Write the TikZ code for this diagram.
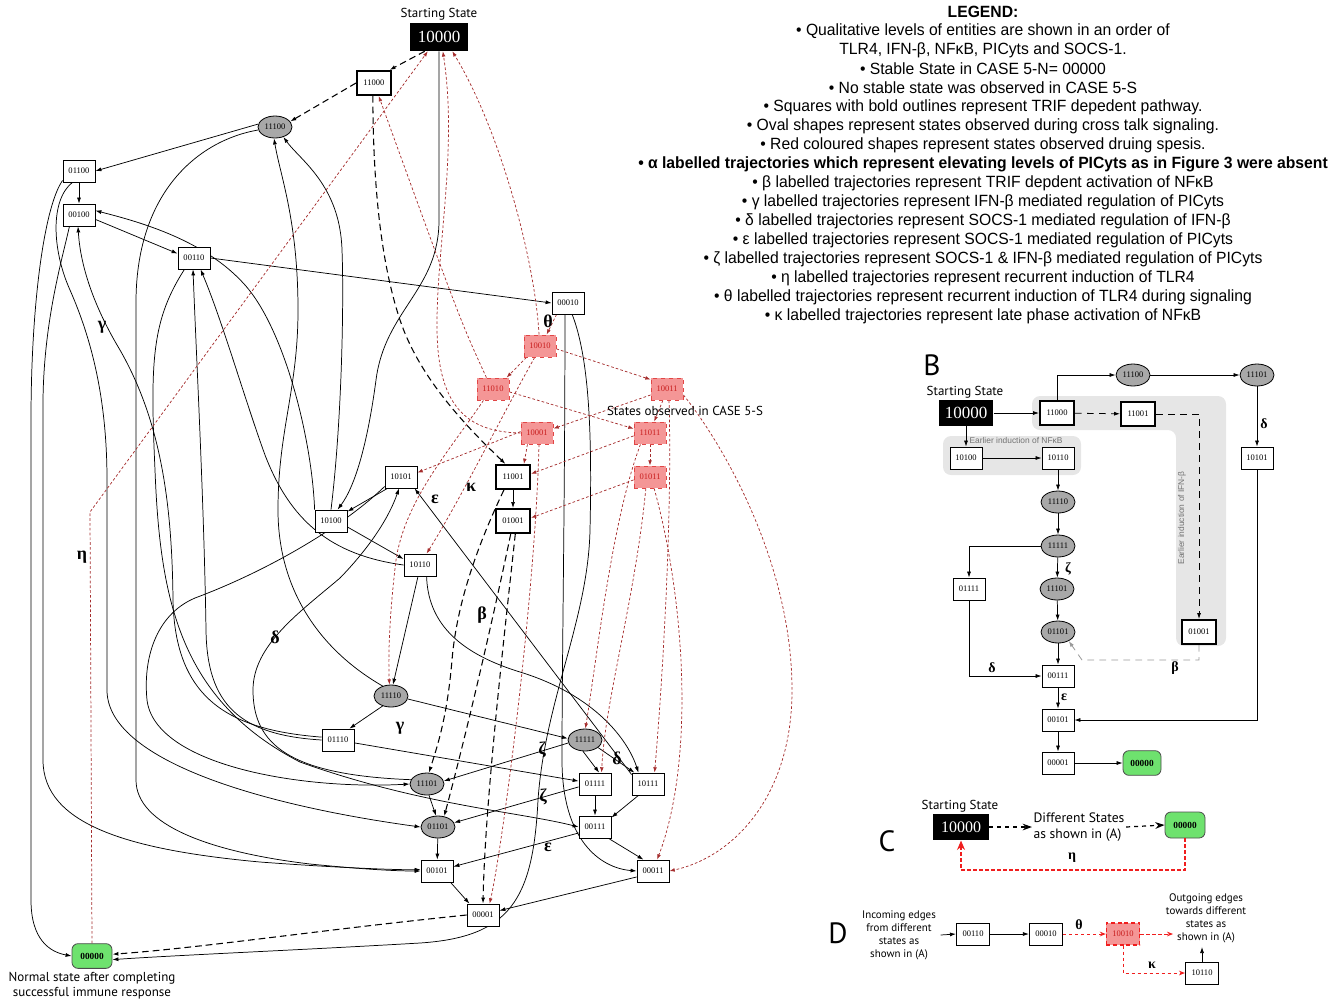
\documentclass[tikz,border=0pt]{standalone}
\usepackage{fontspec}
\setmainfont{Liberation Serif}
\newfontfamily\lgfont[FakeStretch=0.965]{Liberation Sans}
\newfontfamily\mysans{PT Sans}
\newfontfamily\smsans{Liberation Sans}
\usetikzlibrary{arrows.meta,shapes.geometric}
\pgfdeclarelayer{bgfill}
\pgfdeclarelayer{background}
\pgfsetlayers{bgfill,background,main}
\definecolor{redfill}{RGB}{244,150,150}
\definecolor{redline}{RGB}{225,70,70}
\definecolor{redtext}{RGB}{200,30,30}
\definecolor{redge}{RGB}{165,45,45}
\definecolor{ovalgray}{RGB}{168,168,168}
\definecolor{greenfill}{RGB}{110,226,110}
\definecolor{bggray}{RGB}{230,230,230}
\definecolor{brightred}{RGB}{240,30,30}
\tikzset{
 box/.style={draw, line width=0.6pt, fill=white, minimum width=24pt, minimum height=16.5pt, inner sep=0pt, font=\fontsize{6.4}{7}\selectfont},
 bbox/.style={box, line width=1.5pt, minimum width=25.5pt, minimum height=18pt},
 oval/.style={ellipse, draw, line width=0.6pt, fill=ovalgray, minimum width=25.5pt, minimum height=16.5pt, inner sep=0pt, font=\fontsize{6.4}{7}\selectfont},
 rbox/.style={box, draw=redline, dashed, fill=redfill, text=redtext},
 rboxb/.style={box, draw=brightred, densely dashed, line width=0.8pt, fill=redfill, text=redtext},
 start/.style={fill=black, text=white, minimum width=43.5pt, minimum height=21pt, inner sep=0pt, font=\fontsize{12.75}{14}\selectfont},
 fin/.style={draw=black!70, line width=0.6pt, fill=greenfill, rounded corners=4.5pt, minimum width=30pt, minimum height=18.5pt, inner sep=0pt, font=\bfseries\fontsize{7}{8}\selectfont},
 e/.style={-{Latex[length=4.5pt,width=3pt]}, line width=0.55pt},
 ed/.style={e, dash pattern=on 5pt off 3pt, line width=0.8pt},
 edb/.style={e, dash pattern=on 5pt off 4pt, line width=0.6pt},
 er/.style={-{Latex[length=4pt,width=2.8pt]}, draw=redge, line width=0.55pt, dash pattern=on 2pt off 1.6pt},
 erb/.style={-{Stealth[length=5pt,width=4pt]}, draw=brightred, line width=0.9pt, dash pattern=on 2.5pt off 2pt},
 gl/.style={font=\bfseries\fontsize{13.5}{14}\selectfont},
 lgl/.style={font=\bfseries\fontsize{10.5}{11}\selectfont},
 ann/.style={font=\mysans\fontsize{9.75}{10.5}\selectfont},
 leg/.style={font=\lgfont\fontsize{12.2}{12.5}\selectfont},
 big/.style={font=\mysans\fontsize{22}{22}\selectfont},
}
\begin{document}
\begin{tikzpicture}[x=0.75pt,y=-0.75pt]
\useasboundingbox (0,0) rectangle (1344,1000);
% ================= PANEL A =================
\node[ann] (aStart) at (439,14) {Starting State};
\node[start] (a10000) at (439,37) {10000};
\node[bbox] (a11000) at (374,83) {11000};
\node[oval] (a11100) at (275,127) {11100};
\node[box] (a01100) at (79,171) {01100};
\node[box] (a00100) at (79,215) {00100};
\node[box] (a00110) at (194,258) {00110};
\node[box] (a00010) at (568,303) {00010};
\node[rbox] (a10010) at (540,346) {10010};
\node[rbox] (a11010) at (493,389) {11010};
\node[rbox] (a10011) at (667,389) {10011};
\node[rbox] (a10001) at (537,433) {10001};
\node[rbox] (a11011) at (650,433) {11011};
\node[box] (a10101) at (401,477) {10101};
\node[bbox] (a11001) at (513,477) {11001};
\node[rbox] (a01011) at (650,477) {01011};
\node[box] (a10100) at (331,521) {10100};
\node[bbox] (a01001) at (513,521) {01001};
\node[box] (a10110) at (420,565) {10110};
\node[oval] (a11110) at (391,696) {11110};
\node[box] (a01110) at (338,740) {01110};
\node[oval] (a11111) at (585,740) {11111};
\node[oval] (a11101) at (427,784) {11101};
\node[box] (a01111) at (595,784) {01111};
\node[box] (a10111) at (648,784) {10111};
\node[oval] (a01101) at (438,827) {01101};
\node[box] (a00111) at (595,827) {00111};
\node[box] (a00101) at (437,871) {00101};
\node[box] (a00011) at (653,871) {00011};
\node[box] (a00001) at (483,915) {00001};
\node[fin] (a00000) at (92,956) {00000};
\node[ann] (aNorm1) at (92,978) {Normal state after completing};
\node[ann] (aNorm2) at (92,993) {successful immune response};
\node[ann] (aCase) at (685,411) {States observed in CASE 5-S};

\begin{pgfonlayer}{background}
% black solid
\draw[e] (a11100.170) -- (a01100.east);
\draw[e] (a01100) -- (a00100);
\draw[e] (a00100.-15) -- (a00110.165);
\draw[e] (a00110.east) -- (a00010.west);
\draw[e] (a10000.south) -- (439,220) .. controls (439,290) and (385,310) .. (376,380) .. controls (368,440) and (356,485) .. (a10100.60);
\draw[e] (a10100.north) .. controls (342,420) and (344,300) .. (342,250) .. controls (340,185) and (300,160) .. (a11100.-50);
\draw[e] (a11110.130) .. controls (320,650) and (278,590) .. (278,510) .. controls (278,430) and (298,390) .. (298,310) .. controls (298,220) and (280,175) .. (a11100.-95);
\draw[e] (a10100.north west) .. controls (312,440) and (285,330) .. (245,285) .. controls (205,240) and (140,222) .. (a00100.15);
\draw[e] (a10110.west) .. controls (330,555) and (290,520) .. (265,455) .. controls (245,400) and (222,320) .. (a00110.-60);
\draw[e] (a01110.west) .. controls (240,735) and (207,705) .. (206,630) .. controls (204,500) and (196,350) .. (a00110.-95);
\draw[e] (a00110.-130) .. controls (152,320) and (150,360) .. (155,470) .. controls (160,600) and (180,700) .. (300,762) .. controls (420,805) and (520,812) .. (a00111.west);
\draw[e] (a01110.170) .. controls (230,730) and (175,700) .. (173,600) .. controls (172,500) and (160,420) .. (120,350) .. controls (90,300) and (80,260) .. (a00100.-95);
\draw[e] (a01100.-150) .. controls (45,205) and (31,300) .. (31,420) -- (31,900) .. controls (31,940) and (50,952) .. (a00000.west);
\draw[e] (a00100.-130) .. controls (62,260) and (44,320) .. (43,400) -- (43,760) .. controls (43,825) and (130,850) .. (260,862) .. controls (340,868) and (400,870) .. (a00101.175);
\draw[e] (a01100.-120) .. controls (50,200) and (52,250) .. (70,290) .. controls (92,340) and (107,400) .. (107,480) -- (107,690) .. controls (107,760) and (260,805) .. (a01101.west);
\draw[e] (a11100.190) .. controls (200,140) and (137,190) .. (136,300) -- (136,780) .. controls (136,825) and (210,852) .. (310,864) .. controls (370,870) and (400,871) .. (a00101.west);
\draw[e] (a10101.-150) .. controls (345,525) and (270,570) .. (195,598) .. controls (155,615) and (143,660) .. (147,700) .. controls (155,765) and (300,790) .. (a11101.west);
\draw[e] (a11101.165) .. controls (290,775) and (253,745) .. (253,690) .. controls (253,645) and (300,612) .. (340,578) .. controls (372,545) and (390,515) .. (a10101.-100);
\draw[e] (a10101.-140) -- (a10100.30);
\draw[e] (a10100.-20) -- (a10110.160);
\draw[e] (a10110.-100) -- (a11110.80);
\draw[e] (a10110.-60) .. controls (428,620) and (455,652) .. (520,672) .. controls (595,695) and (628,740) .. (a10111.130);
\draw[e] (a10111.150) -- (a10101.-40);
\draw[e] (a00010.-105) .. controls (565,500) and (562,650) .. (562,760) .. controls (562,840) and (600,868) .. (a00011.west);
\draw[e] (a00010.-70) .. controls (590,360) and (592,440) .. (590,530) .. controls (588,620) and (545,700) .. (538,800) .. controls (533,900) and (510,937) .. (420,943) .. controls (300,950) and (180,955) .. (a00000.-10);
\draw[e] (a11110.-130) -- (a01110.45);
\draw[e] (a11110.-10) -- (a11111.175);
\draw[e] (a11111.190) -- (a11101.10);
\draw[e] (a11111.-100) -- (a01111.70);
\draw[e] (a11111.-30) -- (a10111.140);
\draw[e] (a01110.-10) -- (a01111.170);
\draw[e] (a01111.190) -- (a01101.15);
\draw[e] (a01111) -- (a00111);
\draw[e] (a10111.-130) -- (a00111.30);
\draw[e] (a11101.-80) -- (a01101.100);
\draw[e] (a01101) -- (a00101);
\draw[e] (a00111.200) -- (a00101.15);
\draw[e] (a00111.-40) -- (a00011.130);
\draw[e] (a00101.-40) -- (a00001.140);
\draw[e] (a00011.200) -- (a00001.15);
% black dashed (TRIF)
\draw[ed] (a10000.-135) -- (a11000.40);
\draw[ed] (a11000.west) -- (a11100.20);
\draw[ed] (a11000.-95) .. controls (373,180) and (380,260) .. (400,320) .. controls (420,380) and (470,430) .. (a11001.120);
\draw[e] (a11001) -- (a01001);
\draw[ed] (a11001.-125) .. controls (480,540) and (457,600) .. (452,660) .. controls (447,720) and (436,750) .. (a11101.80);
\draw[ed] (a01001.-100) .. controls (497,600) and (470,720) .. (a01101.60);
\draw[ed] (a01001.-80) .. controls (506,620) and (485,800) .. (a00001.90);
\draw[ed] (a00001.180) .. controls (320,930) and (200,948) .. (a00000.5);
% red (sepsis)
\draw[er] (a00000.north) -- (90,512) -- (a10000.-128);
\draw[er] (a10010.95) .. controls (535,260) and (500,130) .. (a10000.-47);
\draw[er] (a10001.west) .. controls (470,432) and (438,410) .. (437,330) .. controls (436,250) and (458,150) .. (a10000.-75);
\draw[er] (a11010.120) .. controls (460,320) .. (a11000.-70);
\draw[er] (a00010.-135) -- (a10010.60);
\draw[er] (a10010.-140) -- (a11010.40);
\draw[er] (a10010.-10) -- (a10011.150);
\draw[er] (a10010.-115) .. controls (505,410) and (460,500) .. (a10110.60);
\draw[er] (a11010.-10) -- (a11011.165);
\draw[er] (a11010.-130) .. controls (450,450) and (405,500) .. (396,560) .. controls (390,610) and (388,650) .. (a11110.98);
\draw[er] (a10011.-160) -- (a10001.15);
\draw[er] (a10011.-110) -- (a11011.70);
\draw[er] (a10011.-80) .. controls (672,500) and (665,650) .. (a10111.60);
\draw[er] (a10011.-20) .. controls (720,440) and (792,560) .. (792,690) .. controls (792,800) and (730,858) .. (a00011.east);
\draw[er] (a10001.175) -- (a10101.15);
\draw[er] (a10001.-130) -- (a11001.50);
\draw[er] (a10001.-80) .. controls (535,600) and (502,850) .. (a00001.60);
\draw[er] (a11011.190) -- (a11001.10);
\draw[er] (a11011) -- (a01011);
\draw[er] (a11011.-130) .. controls (612,520) and (598,650) .. (a11111.88);
\draw[er] (a01011.190) -- (a01001.10);
\draw[er] (a01011.-110) .. controls (635,600) and (605,700) .. (a01111.60);
\draw[er] (a01011.-70) .. controls (685,600) and (695,760) .. (a00011.70);
\end{pgfonlayer}
% Greek labels A
\node[gl] (ag1) at (102,327) {γ};
\node[gl] (ag2) at (82,557) {η};
\node[gl] (ag3) at (275,637) {δ};
\node[gl] (ag4) at (435,499) {ε};
\node[gl] (ag5) at (471,487) {κ};
\node[gl] (ag6) at (482,615) {β};
\node[gl] (ag7) at (548,321) {θ};
\node[gl] (ag8) at (400,728) {γ};
\node[gl] (ag9) at (542,750) {ζ};
\node[gl] (ag10) at (617,758) {δ};
\node[gl] (ag11) at (543,797) {ζ};
\node[gl] (ag12) at (548,847) {ε};

% ================= LEGEND =================
\node[leg] (L0) at (983,12) {\bfseries LEGEND:};
\node[leg] (L1) at (983,31) {• Qualitative levels of entities are shown in an order of};
\node[leg] (L2) at (983,50) {TLR4, IFN-β, NFκB, PICyts and SOCS-1.};
\node[leg] (L3) at (983,69) {• Stable State in CASE 5-N= 00000};
\node[leg] (L4) at (983,88) {• No stable state was observed in CASE 5-S};
\node[leg] (L5) at (983,107) {• Squares with bold outlines represent TRIF depedent pathway.};
\node[leg] (L6) at (983,126) {• Oval shapes represent states observed during cross talk signaling.};
\node[leg] (L7) at (983,145) {• Red coloured shapes represent states observed druing spesis.};
\node[leg] (L8) at (983,164) {\bfseries • α labelled trajectories which represent elevating levels of PICyts as in Figure 3 were absent};
\node[leg] (L9) at (983,183) {• β labelled trajectories represent TRIF depdent activation of NFκB};
\node[leg] (L10) at (983,202) {• γ labelled trajectories represent IFN-β mediated regulation of PICyts};
\node[leg] (L11) at (983,221) {• δ labelled trajectories represent SOCS-1 mediated regulation of IFN-β};
\node[leg] (L12) at (983,240) {• ε labelled trajectories represent SOCS-1 mediated regulation of PICyts};
\node[leg] (L13) at (983,259) {• ζ labelled trajectories represent SOCS-1 \& IFN-β mediated regulation of PICyts};
\node[leg] (L14) at (983,278) {• η labelled trajectories represent recurrent induction of TLR4};
\node[leg] (L15) at (983,297) {• θ labelled trajectories represent recurrent induction of TLR4 during signaling};
\node[leg] (L16) at (983,316) {• κ labelled trajectories represent late phase activation of NFκB};

% ================= PANEL B =================
\begin{pgfonlayer}{bgfill}
\fill[bggray, rounded corners=6pt] (1032,396) -- (1226,396) -- (1226,646) -- (1176,646) -- (1176,430) -- (1032,430) -- cycle;
\fill[bggray, rounded corners=6pt] (943,436) rectangle (1081,475);
\end{pgfonlayer}
\node[big] (lB) at (932,365) {B};
\node[ann] (bStart) at (965,392) {Starting State};
\node[start, minimum width=41pt, minimum height=19.5pt] (b10000) at (966,413) {10000};
\node[bbox] (b11000) at (1057,413) {11000};
\node[bbox] (b11001) at (1138,414) {11001};
\node[oval] (b11100) at (1133,375) {11100};
\node[oval] (b11101) at (1257,375) {11101};
\node[box] (b10101) at (1257,458) {10101};
\node[box] (b10100) at (966,458) {10100};
\node[box] (b10110) at (1058,458) {10110};
\node[oval] (b11110) at (1058,502) {11110};
\node[oval] (b11111) at (1058,546) {11111};
\node[box] (b01111) at (969,589) {01111};
\node[oval] (b11101b) at (1057,589) {11101};
\node[oval] (b01101) at (1058,632) {01101};
\node[bbox] (b01001) at (1199,632) {01001};
\node[box] (b00111) at (1058,676) {00111};
\node[box] (b00101) at (1058,720) {00101};
\node[box] (b00001) at (1058,763) {00001};
\node[fin, minimum width=28.5pt] (b00000) at (1142,763) {00000};
\node[font=\smsans\fontsize{6.3}{7}\selectfont, text=black!55] (bNF) at (1016,440) {Earlier induction of NFκB};
\node[font=\smsans\fontsize{6.3}{7}\selectfont, text=black!55, rotate=90] (bIFN) at (1182,518) {Earlier induction of IFN-β};
\begin{pgfonlayer}{background}
\draw[e] (b10000) -- (b11000);
\draw[e] (b10000) -- (b10100);
\draw[e] (b10100) -- (b10110);
\draw[e] (b11000.north) |- (b11100.west);
\draw[e] (b11100) -- (b11101);
\draw[e] (b11101) -- (b10101);
\draw[edb] (b11000) -- (b11001);
\draw[edb] (b11001.east) -| (b01001.north);
\draw[e] (b10110) -- (b11110);
\draw[e] (b11110) -- (b11111);
\draw[e] (b11111) -- (b11101b);
\draw[e] (b11101b) -- (b01101);
\draw[e] (b01101) -- (b00111);
\draw[e] (b00111) -- (b00101);
\draw[e] (b00101) -- (b00001);
\draw[e] (b00001) -- (b00000);
\draw[e] (b11111.west) -| (b01111.north);
\draw[e] (b01111.south) |- (b00111.west);
\draw[e] (b10101.south) |- (b00101.east);
\draw[edb, draw=black!40] (b01001.south) -- (1199,660) -- (1082,660) -- (b01101.-40);
\end{pgfonlayer}
\node[lgl] (bg1) at (1264,424) {δ};
\node[lgl] (bg2) at (1068,569) {ζ};
\node[lgl] (bg3) at (992,668) {δ};
\node[lgl] (bg4) at (1064,697) {ε};
\node[lgl] (bg5) at (1175,668) {β};

% ================= PANEL C =================
\node[big] (lC) at (887,841) {C};
\node[ann] (cStart) at (960,806) {Starting State};
\node[start, minimum width=42pt, minimum height=20pt, font=\fontsize{12}{13}\selectfont] (c10000) at (961,827) {10000};
\node[font=\mysans\fontsize{10.2}{12.5}\selectfont, align=left, inner sep=1pt] (cDiff) at (1079,827) {Different States\\as shown in (A)};
\node[fin, minimum height=19.5pt] (c00000) at (1185,825) {00000};
\draw[-{Stealth[length=7pt,width=5pt]}, line width=0.9pt, dash pattern=on 3pt off 3pt] (c10000.east) -- (cDiff.west);
\draw[-{Stealth[length=7pt,width=5pt]}, line width=0.9pt, dash pattern=on 3pt off 3pt] (cDiff.east) -- (c00000.west);
\draw[erb, -{Stealth[length=7pt,width=6pt]}] (c00000.south) -- (1185,870) -| (c10000.south);
\node[lgl] (cg1) at (1072,858) {η};

% ================= PANEL D =================
\node[big] (lD) at (838,933) {D};
\node[font=\mysans\fontsize{8.2}{9.75}\selectfont, align=center] (dIn) at (899,935) {Incoming edges\\from different\\states as\\shown in (A)};
\node[box, minimum width=25pt] (d00110) at (973,934) {00110};
\node[box, minimum width=25pt] (d00010) at (1046,934) {00010};
\node[rboxb, minimum width=25pt] (d10010) at (1123,934) {10010};
\node[box, minimum width=25pt] (d10110) at (1202,973) {10110};
\node[font=\mysans\fontsize{8.2}{9.75}\selectfont, align=center] (dOut) at (1206,918) {Outgoing edges\\towards different\\states as\\shown in (A)};
\coordinate (dEnd) at (1173,934);
\coordinate (dUp) at (1202,947);
\draw[e] (dIn.east) -- (d00110.west);
\draw[e] (d00110) -- (d00010);
\draw[erb, -{Stealth[length=4.5pt,width=3.5pt]}, line width=0.7pt] (d00010) -- (d10010);
\draw[erb, -{Stealth[length=4.5pt,width=3.5pt]}, line width=0.7pt] (d10010.east) -- (dEnd);
\draw[erb, -{Stealth[length=4.5pt,width=3.5pt]}, line width=0.7pt] (d10010.south) |- (d10110.west);
\draw[e] (d10110.north) -- (dUp);
\node[lgl] (dg1) at (1079,925) {θ};
\node[lgl] (dg2) at (1152,965) {κ};
\end{tikzpicture}
\end{document}
